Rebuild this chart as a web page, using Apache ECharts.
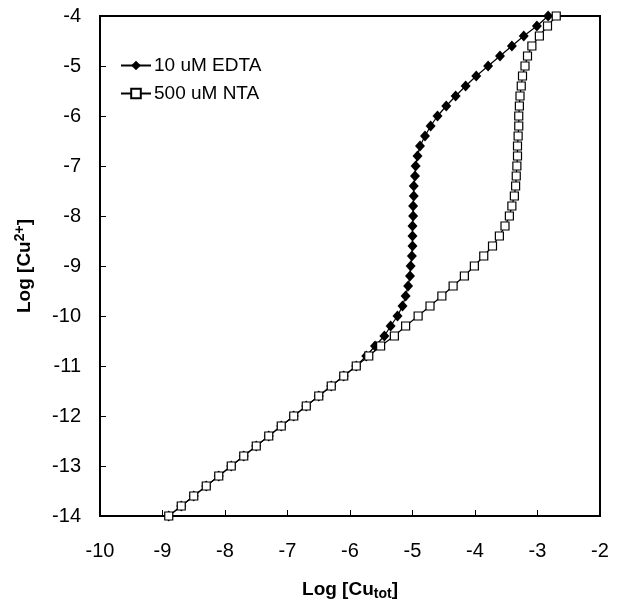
<!DOCTYPE html>
<html>
<head>
<meta charset="utf-8">
<script src="https://cdn.jsdelivr.net/npm/echarts@6/dist/echarts.min.js"></script>
<style>
html,body{margin:0;padding:0;background:#fff;}
#c{width:619px;height:602px;}
</style>
</head>
<body>
<div id="c"></div>
<script>
// Log [Cu2+] values (y), shared by both series
const logCuFree = [-14,-13.8,-13.6,-13.4,-13.2,-13,-12.8,-12.6,-12.4,-12.2,-12,-11.8,-11.6,-11.4,-11.2,-11,-10.8,-10.6,-10.4,-10.2,-10,-9.8,-9.6,-9.4,-9.2,-9,-8.8,-8.6,-8.4,-8.2,-8,-7.8,-7.6,-7.4,-7.2,-7,-6.8,-6.6,-6.4,-6.2,-6,-5.8,-5.6,-5.4,-5.2,-5,-4.8,-4.6,-4.4,-4.2,-4];
// Log [Cu_tot] for 10 uM EDTA
const edtaLogCuTot = [-8.9,-8.7,-8.5,-8.3,-8.1,-7.9,-7.7,-7.5,-7.3,-7.1,-6.9,-6.7,-6.5,-6.3,-6.1,-5.9,-5.74,-5.6,-5.45,-5.35,-5.24,-5.16,-5.11,-5.07,-5.04,-5.03,-5.01,-5.0,-5.0,-5.0,-4.99,-4.99,-4.98,-4.98,-4.96,-4.95,-4.92,-4.88,-4.8,-4.71,-4.6,-4.46,-4.31,-4.15,-3.98,-3.79,-3.6,-3.41,-3.22,-3.01,-2.83];
// Log [Cu_tot] for 500 uM NTA
const ntaLogCuTot = [-8.9,-8.7,-8.5,-8.3,-8.1,-7.9,-7.7,-7.5,-7.3,-7.1,-6.9,-6.7,-6.5,-6.3,-6.1,-5.9,-5.7,-5.51,-5.29,-5.11,-4.91,-4.72,-4.53,-4.35,-4.17,-4.01,-3.86,-3.72,-3.61,-3.52,-3.45,-3.41,-3.37,-3.35,-3.34,-3.33,-3.32,-3.32,-3.31,-3.3,-3.3,-3.29,-3.28,-3.26,-3.24,-3.2,-3.16,-3.09,-2.97,-2.84,-2.7];
const seriesNames = ['10 uM EDTA','500 uM NTA'];

const pair = (xs) => xs.map((x,i)=>[x, logCuFree[i]]);
const font = 'Liberation Sans, Arial, Helvetica, sans-serif';

const chart = echarts.init(document.getElementById('c'), null, {renderer:'canvas'});
chart.setOption({
  animation:false,
  backgroundColor:'#fff',
  grid:{left:100, right:19, top:16, bottom:86, outerBoundsMode:'none', containLabel:false, show:true, borderColor:'#000', borderWidth:2, backgroundColor:'transparent'},
  legend:{
    orient:'vertical', left:120, top:56, padding:0, itemGap:9, itemWidth:30, itemHeight:12,
    data:seriesNames,
    textStyle:{fontFamily:font, fontSize:19, color:'#000', padding:[0,0,0,-2]}
  },
  xAxis:{
    type:'value', min:-10, max:-2, interval:1,
    axisLine:{show:true, onZero:false, lineStyle:{color:'#000', width:2}},
    axisTick:{show:true, inside:true, length:6, lineStyle:{color:'#000', width:1}},
    splitLine:{show:false},
    axisLabel:{fontFamily:font, fontSize:20, color:'#000', margin:25},
    name:'{b|Log [Cu}{s|tot}{b|]}', nameLocation:'middle', nameGap:62,
    nameTextStyle:{rich:{b:{fontFamily:font, fontSize:19, fontWeight:'bold', color:'#000'}, s:{fontFamily:font, fontSize:14, fontWeight:'bold', color:'#000', verticalAlign:'bottom', padding:[9,0,0,0]}}}
  },
  yAxis:{
    type:'value', min:-14, max:-4, interval:1,
    axisLine:{show:true, onZero:false, lineStyle:{color:'#000', width:2}},
    axisTick:{show:true, inside:true, length:6, lineStyle:{color:'#000', width:1}},
    splitLine:{show:false},
    axisLabel:{fontFamily:font, fontSize:20, color:'#000', margin:19, padding:[4,0,0,0]},
    name:'{b|Log [Cu}{s|2+}{b|]}', nameLocation:'middle', nameGap:64, nameRotate:90,
    nameTextStyle:{rich:{b:{fontFamily:font, fontSize:19, fontWeight:'bold', color:'#000'}, s:{fontFamily:font, fontSize:14, fontWeight:'bold', color:'#000', verticalAlign:'top', padding:[0,0,9,0]}}}
  },
  series:[
    {
      name:seriesNames[0], type:'line', data:pair(edtaLogCuTot),
      symbol:'diamond', symbolSize:[10,11], showAllSymbol:true,
      lineStyle:{color:'#000', width:1.2},
      itemStyle:{color:'#000', borderColor:'#000', borderWidth:0},
      z:2
    },
    {
      name:seriesNames[1], type:'line', data:pair(ntaLogCuTot),
      symbol:'rect', symbolSize:8, showAllSymbol:true,
      lineStyle:{color:'#000', width:1.2},
      itemStyle:{color:'#fff', borderColor:'#000', borderWidth:1.2},
      z:3
    }
  ]
});
</script>
</body>
</html>
